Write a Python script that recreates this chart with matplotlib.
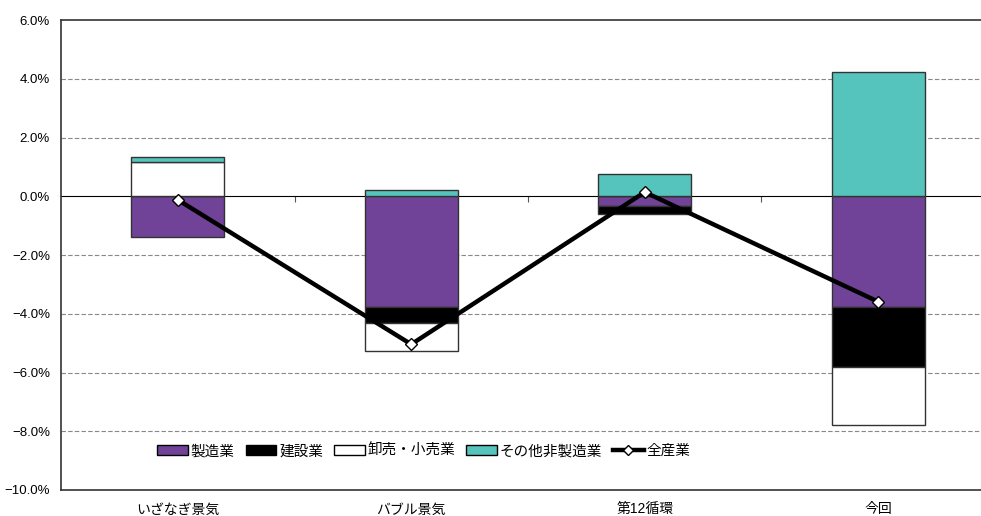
import numpy as np
import matplotlib
matplotlib.use('Agg')
import matplotlib.pyplot as plt
from matplotlib.lines import Line2D
from matplotlib.patches import Patch

plt.rcParams['font.family'] = ['Liberation Sans', 'Noto Sans CJK JP']

categories = ['いざなぎ景気', 'バブル景気', '第12循環', '今回']
manufacturing = [-1.40, -3.76, -0.33, -3.76]
construction = [0.00, -0.57, -0.28, -2.05]
wholesale = [1.15, -0.94, 0.00, -1.99]
other = [0.18, 0.22, 0.76, 4.23]
total = [-0.12, -5.04, 0.14, -3.59]

series_names = ['製造業', '建設業', '卸売・小売業', 'その他非製造業']
colors = ['#704399', '#000000', '#ffffff', '#55c4bc']

fig = plt.figure(figsize=(9.81, 5.16), dpi=100)
# plot area runs past the right edge of the picture
ax = fig.add_axes([61 / 981, 1 - 490 / 516, 934 / 981, 470 / 516])

x = np.arange(len(categories))
width = 0.40

pos_base = np.zeros(len(x))
neg_base = np.zeros(len(x))
for vals, col in zip([manufacturing, construction, wholesale, other], colors):
    vals = np.array(vals)
    bottoms = np.where(vals >= 0, pos_base, neg_base)
    ax.bar(x, vals, width, bottom=bottoms, color=col, edgecolor='#333333',
           linewidth=1.0, zorder=2)
    pos_base = pos_base + np.where(vals >= 0, vals, 0)
    neg_base = neg_base + np.where(vals < 0, vals, 0)

ax.plot(x, total, color='black', linewidth=3.2, marker='D', markersize=6,
        markerfacecolor='white', markeredgecolor='black', markeredgewidth=1.0,
        zorder=4)

ax.set_xlim(-0.5, len(x) - 0.5)
ax.set_ylim(-10, 6)
yt = np.arange(-10, 6.1, 2)
ax.set_yticks(yt)
ax.set_yticklabels([f'{v:.1f}%'.replace('-', '\u2212') for v in yt], fontsize=9.5)
ax.tick_params(axis='y', length=0, pad=8)
for v in yt:
    if v not in (-10, 0, 6):
        ax.axhline(v, color='#888888', linewidth=0.8, linestyle=(0, (4, 2)), zorder=1)

ax.set_xticks(x)
ax.set_xticklabels(categories, fontsize=10)
ax.tick_params(axis='x', length=0, pad=9)

for s in ['top', 'left', 'bottom']:
    ax.spines[s].set_color('#333333')
    ax.spines[s].set_linewidth(1.2)
ax.spines['right'].set_visible(False)

# zero line with category boundary ticks
zero_ax = ax.secondary_xaxis(10 / 16)
zero_ax.set_xticks(x[:-1] + 0.5)
zero_ax.set_xticklabels([])
zero_ax.tick_params(direction='in', length=4, width=0.8, color='#555555')
zero_ax.spines['bottom'].set_linewidth(1.0)
zero_ax.spines['bottom'].set_color('black')

handles = [Patch(facecolor=c, edgecolor='black', linewidth=1.0) for c in colors]
handles.append(Line2D([], [], color='black', linewidth=3.2, marker='D', markersize=5,
                      markerfacecolor='white', markeredgecolor='black'))
labels = series_names + ['全産業']
ax.legend(handles, labels, loc='center left', bbox_to_anchor=(0.103, 0.083),
          ncol=5, frameon=False, fontsize=10.5, handlelength=2.1, handleheight=0.65,
          handletextpad=0.2, columnspacing=0.75, borderaxespad=0, borderpad=0)

fig.savefig('out.png', dpi=100)
